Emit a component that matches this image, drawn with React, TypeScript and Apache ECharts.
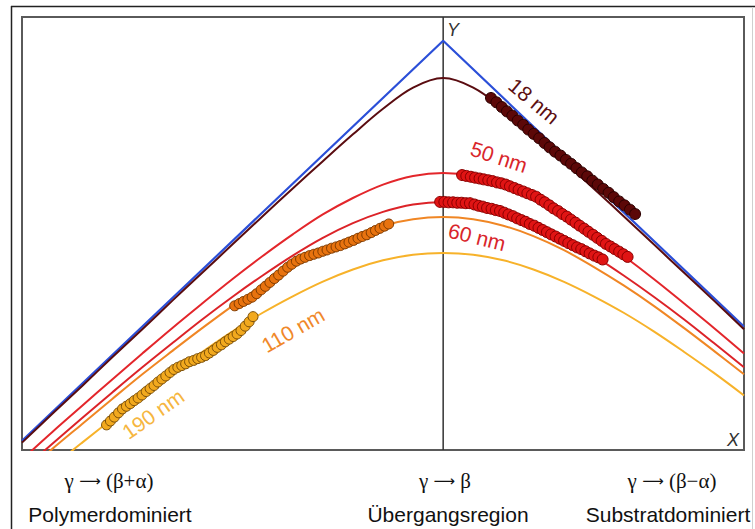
import React, { useEffect, useRef } from "react";
import * as echarts from "echarts";

// x positions of the curve samples
const xs = [-140, -130, -120, -110, -100, -90, -80, -70, -60, -50, -40, -30, -20, -10, 0, 10, 20, 30, 40, 50, 60, 70, 80, 90, 100];

// blue limiting V
const blueX = [-140, 0, 100];
const blueY = [2.1, 94.5, 28.5];

// model curves
const dark18 = [1.7, 8.3, 14.8, 21.4, 27.9, 34.5, 41.0, 47.5, 54.0, 60.4, 66.7, 72.9, 78.8, 83.7, 85.9, 83.7, 78.8, 72.9, 66.7, 60.4, 54.0, 47.5, 41.0, 34.5, 27.9];
const red50 = [-2.2, 4.1, 10.2, 16.3, 22.3, 28.2, 33.9, 39.5, 44.8, 49.8, 54.4, 58.2, 61.3, 63.3, 64.0, 63.3, 61.3, 58.2, 54.4, 49.8, 44.8, 39.5, 33.9, 28.2, 22.3];
const red60 = [-4.7, 1.4, 7.4, 13.3, 19.1, 24.7, 30.2, 35.4, 40.3, 44.9, 49.0, 52.4, 55.0, 56.7, 57.3, 56.7, 55.0, 52.4, 49.0, 44.9, 40.3, 35.4, 30.2, 24.7, 19.1];
const orange110 = [-5.8, 0.2, 6.0, 11.8, 17.5, 22.9, 28.2, 33.3, 38.0, 42.3, 46.2, 49.4, 51.8, 53.3, 53.8, 53.3, 51.8, 49.4, 46.2, 42.3, 38.0, 33.3, 28.2, 22.9, 17.5];
const yellow190 = [-9.7, -3.9, 1.7, 7.2, 12.6, 17.8, 22.7, 27.4, 31.7, 35.5, 38.9, 41.7, 43.8, 45.1, 45.5, 45.1, 43.8, 41.7, 38.9, 35.5, 31.7, 27.4, 22.7, 17.8, 12.6];

// measured points
const dots18 = [
  [15.9, 81.3], [17.7, 80.3], [19.5, 79.2], [21.2, 78.2], [23.0, 77.2], [24.8, 76.1], [26.6, 75.1],
  [28.3, 74.0], [30.1, 73.0], [31.9, 72.0], [33.7, 70.9], [35.4, 69.9], [37.2, 68.9], [39.0, 68.0],
  [40.8, 67.0], [42.5, 66.1], [44.3, 65.1], [46.1, 64.1], [47.9, 63.2], [49.6, 62.2], [51.4, 61.3],
  [53.2, 60.3], [55.0, 59.4], [56.7, 58.4], [58.5, 57.4], [60.3, 56.5], [62.1, 55.5], [63.8, 54.5],
];
const dots50 = [
  [6.3, 63.5], [7.7, 63.3], [9.2, 63.1], [10.6, 62.9], [12.1, 62.7], [13.5, 62.5], [15.0, 62.3],
  [16.4, 62.1], [17.9, 61.8], [19.3, 61.6], [20.8, 61.3], [22.2, 60.9], [23.7, 60.5], [25.1, 60.1],
  [26.6, 59.7], [28.0, 59.3], [29.5, 58.9], [30.9, 58.5], [32.4, 57.8], [33.8, 57.2], [35.3, 56.5],
  [36.7, 55.8], [38.2, 55.2], [39.6, 54.5], [41.1, 53.9], [42.5, 53.2], [44.0, 52.5], [45.4, 51.8],
  [46.9, 51.1], [48.3, 50.4], [49.8, 49.7], [51.2, 49.0], [52.7, 48.3], [54.1, 47.6], [55.6, 47.0],
  [57.0, 46.4], [58.5, 45.8], [59.9, 45.2], [61.3, 44.6],
];
const dots60 = [
  [-1.0, 57.3], [0.4, 57.3], [1.8, 57.2], [3.3, 57.2], [4.7, 57.1], [6.1, 57.1], [7.5, 57.0],
  [8.9, 57.0], [10.4, 56.7], [11.8, 56.4], [13.2, 56.2], [14.6, 55.9], [16.1, 55.7], [17.5, 55.4],
  [18.9, 55.2], [20.3, 54.8], [21.7, 54.4], [23.2, 54.0], [24.6, 53.5], [26.0, 53.1], [27.4, 52.7],
  [28.8, 52.2], [30.3, 51.8], [31.7, 51.3], [33.1, 50.8], [34.5, 50.3], [35.9, 49.8], [37.4, 49.3],
  [38.8, 48.8], [40.2, 48.3], [41.6, 47.8], [43.1, 47.3], [44.5, 46.8], [45.9, 46.4], [47.3, 45.9],
  [48.7, 45.4], [50.2, 44.9], [51.6, 44.5], [53.0, 44.0],
];
const dots110 = [
  [-69.3, 33.3], [-67.8, 33.8], [-66.4, 34.3], [-64.9, 34.8], [-63.5, 35.3], [-62.0, 36.1],
  [-60.5, 37.0], [-59.1, 37.8], [-57.6, 38.7], [-56.1, 39.6], [-54.7, 40.4], [-53.2, 41.3],
  [-51.7, 42.2], [-50.3, 42.9], [-48.8, 43.6], [-47.4, 44.1], [-45.9, 44.5], [-44.4, 44.9],
  [-43.0, 45.2], [-41.5, 45.5], [-40.0, 45.9], [-38.6, 46.2], [-37.1, 46.6], [-35.6, 46.9],
  [-34.2, 47.2], [-32.7, 47.6], [-31.3, 48.0], [-29.8, 48.4], [-28.3, 48.9], [-26.9, 49.3],
  [-25.4, 49.7], [-23.9, 50.2], [-22.5, 50.7], [-21.0, 51.2], [-19.5, 51.7], [-18.1, 52.2],
];
const dots190 = [
  [-111.9, 5.8], [-110.6, 6.7], [-109.3, 7.6], [-107.9, 8.6], [-106.6, 9.5], [-105.3, 10.1],
  [-104.0, 10.7], [-102.7, 11.4], [-101.4, 12.0], [-100.1, 12.7], [-98.7, 13.5], [-97.4, 14.2],
  [-96.1, 14.9], [-94.8, 15.7], [-93.5, 16.4], [-92.2, 17.1], [-90.8, 17.9], [-89.5, 18.6],
  [-88.2, 19.1], [-86.9, 19.5], [-85.6, 19.9], [-84.3, 20.4], [-82.9, 20.7], [-81.6, 21.1],
  [-80.3, 21.4], [-79.0, 21.8], [-77.7, 22.4], [-76.4, 23.0], [-75.1, 23.7], [-73.7, 24.3],
  [-72.4, 25.0], [-71.1, 25.6], [-69.8, 26.2], [-68.5, 26.8], [-67.2, 27.6], [-65.8, 28.6],
  [-64.5, 29.6], [-63.2, 30.8],
];

// vertical axis line (x = 0)
const axisLineX = [0, 0];
const axisLineY = [0, 100];

const curveLabels = ["18 nm", "50 nm", "60 nm", "110 nm", "190 nm"];
const formulaParts = [
  ["γ", "(β+α)"],
  ["γ", "β"],
  ["γ", "(β−α)"],
];
const bottomRegions = ["Polymerdominiert", "Übergangsregion", "Substratdominiert"];

const zip = (a: number[], b: number[]) => a.map((v, i) => [v, b[i]]);

export default function App() {
  const ref = useRef<HTMLDivElement>(null);
  useEffect(() => {
    if (!ref.current) return;
    const chart = echarts.init(ref.current, null, { renderer: "svg" });
    const sans = "'Liberation Sans', Arial, sans-serif";
    const serif = "'Liberation Serif', 'Times New Roman', serif";

    const lineSeries = (data: number[][], color: string, width: number, z = 2) => ({
      type: "line",
      data,
      smooth: 0.35,
      symbol: "none",
      lineStyle: { color, width },
      clip: true,
      silent: true,
      z,
    });
    const dotSeries = (data: number[][], fill: string, border: string, size: number) => ({
      type: "scatter",
      data,
      symbol: "circle",
      symbolSize: size,
      itemStyle: { color: fill, borderColor: border, borderWidth: 1, opacity: 1 },
      silent: true,
      z: 5,
    });

    const label = (text: string, x: number, y: number, deg: number, fill: string) => ({
      type: "text",
      x,
      y,
      rotation: (deg * Math.PI) / 180,
      style: {
        text,
        fill,
        fontSize: 21,
        fontFamily: sans,
        align: "center",
        verticalAlign: "middle",
      },
      z: 10,
    });
    const plain = (text: string, x: number, y: number, font: string, size: number, style = "normal", fill = "#111") => ({
      type: "text",
      x,
      y,
      style: {
        text,
        fill,
        fontSize: size,
        fontFamily: font,
        fontStyle: style,
        align: "center",
        verticalAlign: "middle",
      },
      z: 10,
    });
    const formula = (parts: string[], x: number, y: number) => ({
      type: "text",
      x,
      y,
      style: {
        text: `{a|${parts[0]} }{b|⟶}{a| ${parts[1]}}`,
        fill: "#111",
        fontSize: 21,
        fontFamily: serif,
        align: "center",
        verticalAlign: "middle",
        rich: {
          a: { fontSize: 21, fontFamily: serif, fill: "#111" },
          b: { fontSize: 15, fontFamily: "'DejaVu Sans', sans-serif", fill: "#111" },
        },
      },
      z: 10,
    });

    chart.setOption({
      animation: false,
      backgroundColor: "#ffffff",
      grid: {
        left: 22,
        top: 17,
        width: 722,
        height: 433,
        show: true,
        borderColor: "#5a5a5a",
        borderWidth: 2,
        backgroundColor: "transparent",
      },
      xAxis: { type: "value", min: -140, max: 100, show: false },
      yAxis: { type: "value", min: 0, max: 100, show: false },
      series: [
        lineSeries(zip(axisLineX, axisLineY), "#333333", 1.5, 1),
        lineSeries(zip(xs, yellow190), "#f7b22a", 2),
        lineSeries(zip(xs, orange110), "#f08624", 2),
        lineSeries(zip(xs, red60), "#dc2328", 2),
        lineSeries(zip(xs, red50), "#e3262b", 2),
        { ...lineSeries(zip(blueX, blueY), "#2b4fd8", 2.2), smooth: false },
        lineSeries(zip(xs, dark18), "#5a0c10", 2),
        dotSeries(dots190, "#f2a91e", "#7a4e08", 10),
        dotSeries(dots110, "#e8730f", "#7e3a00", 10),
        dotSeries(dots60, "#e01414", "#8a0000", 11),
        dotSeries(dots50, "#e01414", "#8a0000", 11),
        dotSeries(dots18, "#5c0808", "#2a0000", 11),
      ],
      graphic: [
        { type: "line", shape: { x1: 11.5, y1: 6, x2: 11.5, y2: 529 }, style: { stroke: "#222", lineWidth: 1.5 } },
        { type: "line", shape: { x1: 11, y1: 6.5, x2: 755, y2: 6.5 }, style: { stroke: "#222", lineWidth: 1.5 } },
        { type: "line", shape: { x1: 752.5, y1: 7, x2: 752.5, y2: 529 }, style: { stroke: "#cfcfcf", lineWidth: 1 } },
        label(curveLabels[0], 534, 101, -40, "#5c0f12"),
        label(curveLabels[1], 499, 157, -18, "#d9262b"),
        label(curveLabels[2], 477, 237, -14, "#d9262b"),
        label(curveLabels[3], 293, 330, 30, "#f0882a"),
        label(curveLabels[4], 153, 414, 35, "#f6b640"),
        plain("Y", 453, 30, sans, 18, "italic", "#333"),
        plain("X", 733, 440, sans, 18, "italic", "#333"),
        formula(formulaParts[0], 109, 481),
        formula(formulaParts[1], 445, 481),
        formula(formulaParts[2], 672, 481),
        plain(bottomRegions[0], 110, 514, sans, 21),
        plain(bottomRegions[1], 448, 514, sans, 21),
        plain(bottomRegions[2], 668, 514, sans, 21),
      ],
    });
    return () => chart.dispose();
  }, []);
  return (
    <div
      ref={ref}
      style={{ position: "absolute", left: 0, top: 0, width: 755, height: 529, background: "#fff" }}
    />
  );
}
